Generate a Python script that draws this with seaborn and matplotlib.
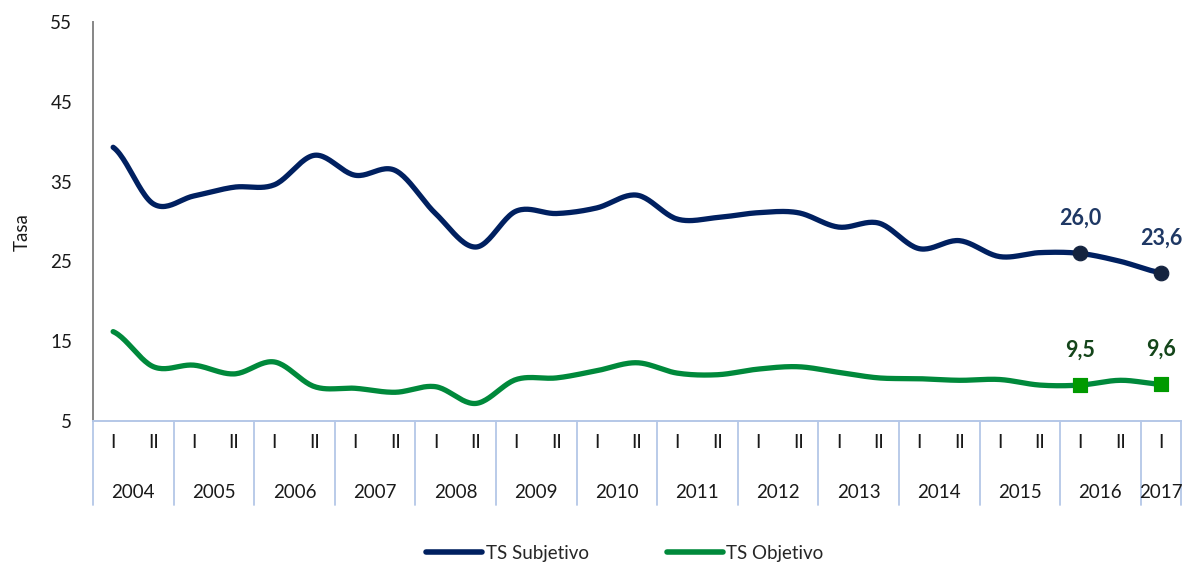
import numpy as np
import matplotlib
matplotlib.use("Agg")
import matplotlib.pyplot as plt
import matplotlib.transforms as mtrans
from matplotlib.lines import Line2D
import seaborn as sns

# ---------------- data ----------------
years = ["2004", "2005", "2006", "2007", "2008", "2009", "2010", "2011",
         "2012", "2013", "2014", "2015", "2016", "2017"]
semesters = ["I", "II"] * 13 + ["I"]
ts_subjetivo = [39.3, 32.2, 33.2, 34.3, 34.6, 38.3, 35.8, 36.4, 31.0, 26.8,
                31.3, 31.0, 31.7, 33.3, 30.3, 30.5, 31.1, 31.1, 29.3, 29.8,
                26.6, 27.6, 25.6, 26.1, 26.0, 25.0, 23.6]
ts_objetivo = [16.2, 11.8, 12.0, 10.9, 12.4, 9.3, 9.1, 8.6, 9.3, 7.2,
               10.2, 10.4, 11.3, 12.3, 11.0, 10.8, 11.5, 11.8, 11.1, 10.4,
               10.3, 10.1, 10.2, 9.5, 9.5, 10.1, 9.6]
labeled_idx = [24, 26]
labels_subjetivo = ["26,0", "23,6"]
labels_objetivo = ["9,5", "9,6"]
series_names = ["TS Subjetivo", "TS Objetivo"]
y_ticks = [5, 15, 25, 35, 45, 55]

# ---------------- style ----------------
sns.set_theme(style="white")
plt.rcParams['font.family'] = ['Lato', 'DejaVu Sans']

C_SUBJ = "#002060"
C_SUBJ_MK = "#14233f"
C_SUBJ_LB = "#1f3864"
C_OBJ = "#00893b"
C_OBJ_MK = "#009a00"
C_OBJ_LB = "#14451a"
C_CAT = "#b4c7e7"
C_TXT = "#1a1a1a"
FS = 13.5

W, H = 1193, 565
fig = plt.figure(figsize=(W / 100, H / 100), dpi=100)
fig.patch.set_facecolor("white")
ax = fig.add_axes([93 / W, 1 - 421 / H, (1181 - 93) / W, (421 - 22) / H])


def smooth(vals, n=24):
    y = np.asarray(vals, float)
    p = np.concatenate([[y[0]], y, [y[-1]]])
    xs, ys = [], []
    t = np.linspace(0, 1, n, endpoint=False)
    for i in range(len(y) - 1):
        p0, p1, p2, p3 = p[i], p[i + 1], p[i + 2], p[i + 3]
        c1 = p1 + (p2 - p0) / 6
        c2 = p2 - (p3 - p1) / 6
        b = (1 - t) ** 3 * p1 + 3 * (1 - t) ** 2 * t * c1 + 3 * (1 - t) * t ** 2 * c2 + t ** 3 * p2
        xs.extend(i + t)
        ys.extend(b)
    xs.append(len(y) - 1)
    ys.append(y[-1])
    return np.array(xs), np.array(ys)


for vals, col in [(ts_subjetivo, C_SUBJ), (ts_objetivo, C_OBJ)]:
    sx, sy = smooth(vals)
    sns.lineplot(x=sx, y=sy, ax=ax, color=col, lw=3.8, sort=False,
                 estimator=None, solid_capstyle="round", zorder=3)

# markers
sns.scatterplot(x=labeled_idx, y=[ts_subjetivo[i] for i in labeled_idx], ax=ax,
                marker="o", s=110, color=C_SUBJ_MK, edgecolor=C_SUBJ_MK, zorder=5)
sns.scatterplot(x=labeled_idx, y=[ts_objetivo[i] for i in labeled_idx], ax=ax,
                marker="s", s=110, color=C_OBJ_MK, edgecolor=C_OBJ_MK, zorder=5)

for i, txt in zip(labeled_idx, labels_subjetivo):
    ax.annotate(txt, (i, ts_subjetivo[i]), xytext=(0, 25), textcoords="offset points",
                ha="center", va="center", fontsize=15.5, fontweight="bold", color=C_SUBJ_LB)
for i, txt in zip(labeled_idx, labels_objetivo):
    ax.annotate(txt, (i, ts_objetivo[i]), xytext=(0, 25), textcoords="offset points",
                ha="center", va="center", fontsize=15.5, fontweight="bold", color=C_OBJ_LB)

# axes
ax.set_xlim(-0.5, 26.5)
ax.set_ylim(5, 55)
ax.set_yticks(y_ticks)
ax.set_yticklabels([str(v) for v in y_ticks], fontsize=FS, color=C_TXT)
ax.tick_params(axis="y", length=0, pad=15)
ax.set_xticks([])
for s in ["top", "right"]:
    ax.spines[s].set_visible(False)
ax.spines["left"].set_color("#868686")
ax.spines["left"].set_linewidth(1.4)
ax.spines["bottom"].set_color(C_CAT)
ax.spines["bottom"].set_linewidth(1.4)
ax.set_xlabel("")
ax.set_ylabel("")
ax.grid(False)

fig.text(22 / W, 1 - 232 / H, "Tasa", rotation=90, ha="center", va="center",
         fontsize=FS, color=C_TXT)

# multi-level category axis
trans = mtrans.blended_transform_factory(ax.transData, ax.transAxes)
axh = 399.0
bounds = [-0.5 + 2 * k for k in range(14)] + [26.5]
for b in bounds:
    ax.plot([b, b], [0, -84 / axh], transform=trans, color=C_CAT, lw=1.3,
            clip_on=False, zorder=1)
for i, s in enumerate(semesters):
    ax.text(i, -22 / axh, s, transform=trans, ha="center", va="center",
            fontsize=FS, color=C_TXT)
for k, yr in enumerate(years):
    xc = 2 * k + 0.5 if k < 13 else 26
    ax.text(xc, -71 / axh, yr, transform=trans, ha="center", va="center",
            fontsize=FS, color=C_TXT)

# legend
handles = [Line2D([], [], color=C_SUBJ, lw=4), Line2D([], [], color=C_OBJ, lw=4)]
fig.legend(handles, series_names, loc="center", bbox_to_anchor=(625 / W, 1 - 553 / H),
           ncol=2, frameon=False, handlelength=2.95, handletextpad=0.2,
           columnspacing=4.2, fontsize=FS)

fig.savefig("out.png", dpi=100, facecolor="white")
